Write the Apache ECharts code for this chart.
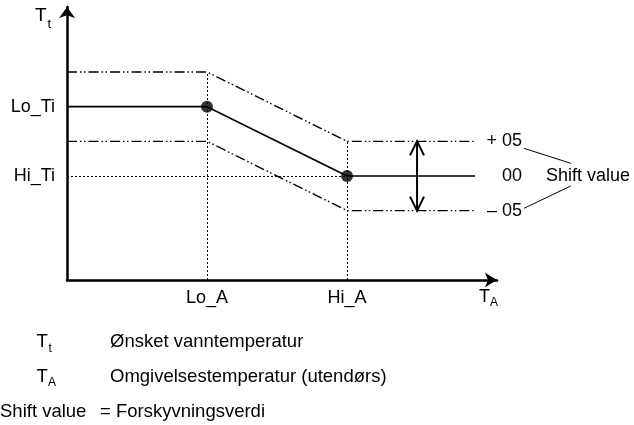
<!DOCTYPE html>
<html>
<head>
<meta charset="utf-8">
<style>
  html, body { margin: 0; padding: 0; background: #fff; }
  #chart { width: 634px; height: 425px; }
</style>
<script src="https://cdn.jsdelivr.net/npm/echarts@6/dist/echarts.min.js"></script>
</head>
<body>
<div id="chart"></div>
<script>
// Ambient temperature breakpoints (origin, Lo_A, Hi_A, end of curve)
const xKnots = [0, 1, 2, 2.914];
// Water temperature set curve and the curves shifted by +/- shift value
const curveMid = [5, 5, 3, 3];
const curveUp = [6, 6, 4, 4];
const curveDown = [4, 4, 2, 2];
// Axis tick labels
const xTickValues = [1, 2];
const xTickLabels = ['Lo_A', 'Hi_A'];
const yTickValues = [3, 5];
const yTickLabels = ['Hi_Ti', 'Lo_Ti'];
// Shift value labels at the right end of each curve
const shiftLabels = ['+ 05', '00', '\u2013 05'];
// Position of the double arrow showing the shift range
const shiftArrowX = 2.5;

const FONT = "'Liberation Sans', Arial, Helvetica, sans-serif";
const pairs = (ys) => xKnots.map((x, i) => [x, ys[i]]);
const loA = xKnots[1], hiA = xKnots[2];
const loTi = curveMid[1], hiTi = curveMid[2];

const dashDot = [10, 3, 1.5, 2.5, 1.5, 3];

function endLabel(text) {
  return {
    show: true,
    distance: 12,
    formatter: '{v|' + text + '}',
    rich: { v: { width: 35, align: 'right', fontSize: 18, fontFamily: FONT, color: '#000' } }
  };
}

const chart = echarts.init(document.getElementById('chart'), null, { renderer: 'canvas' });

const option = {
  animation: false,
  backgroundColor: '#fff',
  grid: { left: 67, right: 137, top: 7, bottom: 145, containLabel: false },
  xAxis: {
    type: 'value', min: 0, max: 3.071,
    axisLine: { show: true, symbol: ['none', 'arrow'], symbolSize: [11, 12],
      lineStyle: { color: '#000', width: 2.5 } },
    axisTick: { show: false },
    splitLine: { show: false },
    axisLabel: {
      customValues: xTickValues,
      formatter: (v) => xTickLabels[xTickValues.indexOf(v)] || '',
      margin: 9, fontSize: 18, fontFamily: FONT, color: '#000'
    }
  },
  yAxis: {
    type: 'value', min: 0, max: 7.875,
    axisLine: { show: true, symbol: ['none', 'arrow'], symbolSize: [12, 11],
      lineStyle: { color: '#000', width: 2.5 } },
    axisTick: { show: false },
    splitLine: { show: false },
    axisLabel: {
      customValues: yTickValues,
      formatter: (v) => yTickLabels[yTickValues.indexOf(v)] || '',
      margin: 12, fontSize: 18, fontFamily: FONT, color: '#000'
    }
  },
  series: [
    {
      name: 'shift+', type: 'line', data: pairs(curveUp), symbol: 'none',
      lineStyle: { color: '#000', width: 1.4, type: dashDot },
      endLabel: endLabel(shiftLabels[0]), z: 2
    },
    {
      name: 'set', type: 'line', data: pairs(curveMid), symbol: 'none',
      lineStyle: { color: '#000', width: 1.6 },
      endLabel: endLabel(shiftLabels[1]), z: 3
    },
    {
      name: 'shift-', type: 'line', data: pairs(curveDown), symbol: 'none',
      lineStyle: { color: '#000', width: 1.4, type: dashDot },
      endLabel: endLabel(shiftLabels[2]), z: 2
    },
    {
      name: 'breakpoints', type: 'scatter', symbol: 'circle', symbolSize: 12,
      itemStyle: { color: '#000' }, z: 5,
      data: [[loA, loTi], [hiA, hiTi]],
      markLine: {
        silent: true, symbol: ['none', 'none'], label: { show: false },
        lineStyle: { color: '#000', width: 1, type: [2, 2] },
        data: [
          [{ coord: [0, hiTi] }, { coord: [hiA, hiTi] }],
          [{ coord: [loA, 0] }, { coord: [loA, curveUp[1]] }],
          [{ coord: [hiA, 0] }, { coord: [hiA, curveUp[2]] }]
        ]
      }
    },
    {
      name: 'shift range', type: 'custom', z: 6,
      data: [[shiftArrowX, curveDown[3], curveUp[3]]],
      renderItem: function (params, api) {
        const lo = api.coord([api.value(0), api.value(1)]);
        const hi = api.coord([api.value(0), api.value(2)]);
        const x = lo[0], hw = 7, h = 14;
        const st = { stroke: '#000', lineWidth: 2, fill: 'none' };
        return {
          type: 'group',
          children: [
            { type: 'line', shape: { x1: x, y1: hi[1], x2: x, y2: lo[1] }, style: st },
            { type: 'polyline', shape: { points: [[x - hw, hi[1] + h], [x, hi[1]], [x + hw, hi[1] + h]] }, style: st },
            { type: 'polyline', shape: { points: [[x - hw, lo[1] - h], [x, lo[1]], [x + hw, lo[1] - h]] }, style: st }
          ]
        };
      }
    }
  ],
  graphic: [
    // Axis names with subscripts
    { type: 'text', x: 35, y: 15.5, style: { text: 'T', fontSize: 19, fontFamily: FONT, fill: '#000', verticalAlign: 'middle' } },
    { type: 'text', x: 47.5, y: 24, style: { text: 't', fontSize: 13, fontFamily: FONT, fill: '#000', verticalAlign: 'middle' } },
    { type: 'text', x: 479, y: 297.5, style: { text: 'T', fontSize: 18, fontFamily: FONT, fill: '#000', verticalAlign: 'middle' } },
    { type: 'text', x: 490, y: 303, style: { text: 'A', fontSize: 12, fontFamily: FONT, fill: '#000', verticalAlign: 'middle' } },
    // Shift value callout
    { type: 'text', x: 546, y: 176, style: { text: 'Shift value', fontSize: 18, fontFamily: FONT, fill: '#000', verticalAlign: 'middle' } },
    { type: 'line', shape: { x1: 524, y1: 148.3, x2: 570.7, y2: 163.3 }, style: { stroke: '#000', lineWidth: 1 } },
    { type: 'line', shape: { x1: 524, y1: 208.3, x2: 570.7, y2: 186 }, style: { stroke: '#000', lineWidth: 1 } },
    // Explanation of symbols
    { type: 'text', x: 36.5, y: 342, style: { text: 'T', fontSize: 18.5, fontFamily: FONT, fill: '#000', verticalAlign: 'middle' } },
    { type: 'text', x: 48.5, y: 349, style: { text: 't', fontSize: 12, fontFamily: FONT, fill: '#000', verticalAlign: 'middle' } },
    { type: 'text', x: 110, y: 341.5, style: { text: 'Ønsket vanntemperatur', fontSize: 18.5, fontFamily: FONT, fill: '#000', verticalAlign: 'middle' } },
    { type: 'text', x: 36.5, y: 377, style: { text: 'T', fontSize: 18.5, fontFamily: FONT, fill: '#000', verticalAlign: 'middle' } },
    { type: 'text', x: 48, y: 383, style: { text: 'A', fontSize: 12, fontFamily: FONT, fill: '#000', verticalAlign: 'middle' } },
    { type: 'text', x: 110, y: 377, style: { text: 'Omgivelsestemperatur (utendørs)', fontSize: 18.5, fontFamily: FONT, fill: '#000', verticalAlign: 'middle' } },
    { type: 'text', x: 0, y: 411.5, style: { text: 'Shift value', fontSize: 18.5, fontFamily: FONT, fill: '#000', verticalAlign: 'middle' } },
    { type: 'text', x: 100, y: 411.5, style: { text: '= Forskyvningsverdi', fontSize: 18.5, fontFamily: FONT, fill: '#000', verticalAlign: 'middle' } }
  ]
};

chart.setOption(option);
</script>
</body>
</html>
